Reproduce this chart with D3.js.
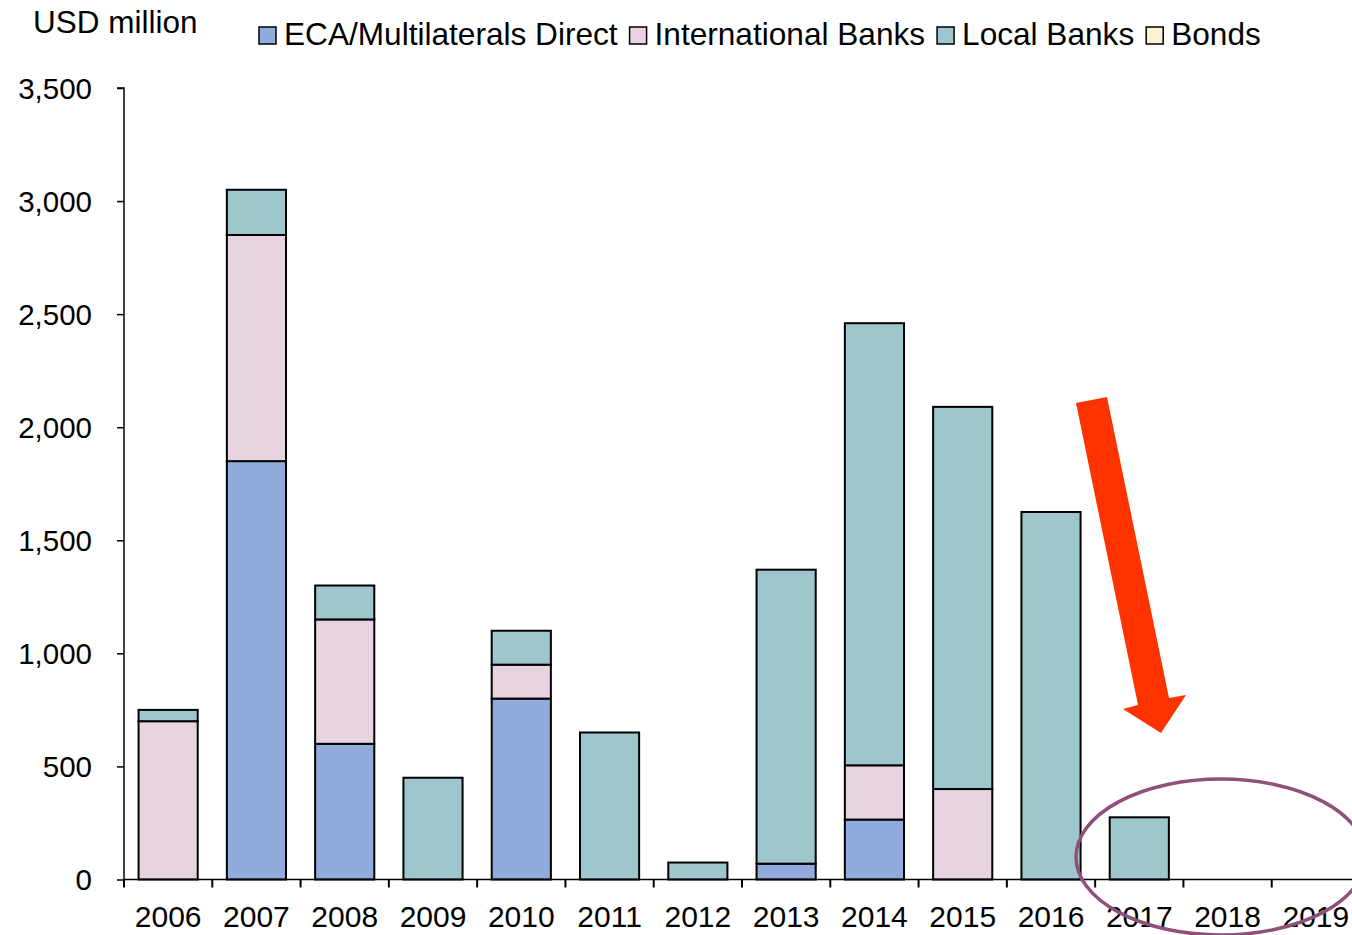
<!DOCTYPE html>
<html>
<head>
<meta charset="utf-8">
<script src="https://cdn.jsdelivr.net/npm/d3@7/dist/d3.min.js"></script>
<style>
  html, body { margin: 0; padding: 0; background: #fff; }
  svg { display: block; font-family: "Liberation Sans", Arial, sans-serif; }
</style>
</head>
<body>
<svg id="chart" width="1352" height="935"></svg>
<script>
// Annual financing volumes, USD million, by source
const years = ["2006","2007","2008","2009","2010","2011","2012","2013","2014","2015","2016","2017","2018","2019"];
const ecaMultilaterals = [0, 1850, 600, 0, 800, 0, 0, 70, 265, 0, 0, 0, 0, 0];
const internationalBanks = [700, 1000, 550, 0, 150, 0, 0, 0, 240, 400, 0, 0, 0, 0];
const localBanks = [50, 200, 150, 450, 150, 650, 75, 1300, 1955, 1690, 1625, 275, 0, 0];
const bonds = [0, 0, 0, 0, 0, 0, 0, 0, 0, 0, 0, 0, 0, 0];
const seriesNames = ["ECA/Multilaterals Direct", "International Banks", "Local Banks", "Bonds"];
const seriesColors = ["#91abdc", "#e8d4e0", "#9dc6cd", "#fbf3d5"];
const yTicks = [0, 500, 1000, 1500, 2000, 2500, 3000, 3500];
const unitLabel = "USD million";

const svg = d3.select("#chart");

const x = d3.scaleBand().domain(years).range([124, 1360]).paddingInner(0.33).paddingOuter(0.165);
const y = d3.scaleLinear().domain([0, 3500]).range([879.5, 88]);

// stacked table
const keys = ["eca", "intl", "local", "bonds"];
const rows = years.map((yr, i) => ({
  year: yr, eca: ecaMultilaterals[i], intl: internationalBanks[i], local: localBanks[i], bonds: bonds[i]
}));
const stacked = d3.stack().keys(keys)(rows);

const gBars = svg.append("g");
stacked.forEach((layer, li) => {
  gBars.selectAll(null)
    .data(layer.filter(d => d[1] - d[0] > 0))
    .join("rect")
    .attr("x", d => x(d.data.year))
    .attr("width", x.bandwidth())
    .attr("y", d => y(d[1]))
    .attr("height", d => y(d[0]) - y(d[1]))
    .attr("fill", seriesColors[li])
    .attr("stroke", "#000")
    .attr("stroke-width", 2);
});

// y axis
const yAxis = d3.axisLeft(y).tickValues(yTicks).tickSize(7).tickPadding(25)
  .tickFormat(d3.format(","));
const gy = svg.append("g").attr("transform", "translate(124,0)").call(yAxis);
gy.select(".domain").attr("stroke", "#000").attr("stroke-width", 1.5).attr("d", "M-7,88H0V880");
gy.selectAll(".tick line").attr("stroke", "#000").attr("stroke-width", 1.5);
gy.selectAll(".tick text").attr("font-size", 29.5).attr("fill", "#000")
  .attr("font-family", "Liberation Sans, Arial, sans-serif").attr("dy", "0.35em");

// x axis
const gx = svg.append("g").attr("transform", "translate(0,879.5)");
gx.append("line").attr("x1", 124).attr("x2", 1360).attr("stroke", "#000").attr("stroke-width", 1.5);
const boundaries = years.map(yr => x(yr) - x.step() * x.paddingInner() / 2);
gx.selectAll(".xt").data(boundaries).join("line")
  .attr("x1", d => d).attr("x2", d => d).attr("y1", 0).attr("y2", 8)
  .attr("stroke", "#000").attr("stroke-width", 2);
gx.selectAll(".xl").data(years).join("text")
  .attr("x", d => x(d) + x.bandwidth() / 2)
  .attr("y", 47)
  .attr("text-anchor", "middle")
  .attr("font-size", 30)
  .attr("fill", "#000")
  .text(d => d);

// unit label
svg.append("text").attr("x", 33).attr("y", 33).attr("font-size", 31.5).attr("fill", "#000")
  .text(unitLabel);

// legend
const legend = svg.append("g");
let lx = 259;
seriesNames.forEach((name, i) => {
  legend.append("rect").attr("x", lx).attr("y", 27).attr("width", 17).attr("height", 17)
    .attr("fill", seriesColors[i]).attr("stroke", "#000").attr("stroke-width", 1.5);
  const t = legend.append("text").attr("x", lx + 25).attr("y", 45)
    .attr("font-size", 31.6).attr("fill", "#000").text(name);
  const w = t.node().getComputedTextLength();
  lx = lx + 25 + w + 12;
});

// downward arrow annotation
svg.append("polygon")
  .attr("points", "1076,403 1107,397 1169,698 1186,695 1161,733 1123,709 1138,705")
  .attr("fill", "#ff3300");

// highlight ellipse over the latest years
svg.append("ellipse")
  .attr("cx", 1221).attr("cy", 857).attr("rx", 145).attr("ry", 78)
  .attr("fill", "none").attr("stroke", "#8f5079").attr("stroke-width", 3.5);
</script>
</body>
</html>
